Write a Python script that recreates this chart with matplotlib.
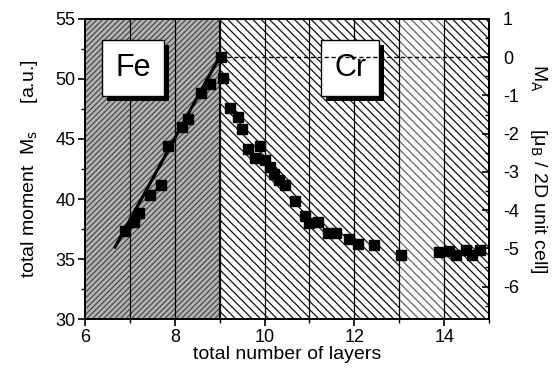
import matplotlib
matplotlib.use("Agg")
import matplotlib.pyplot as plt
import matplotlib.patheffects as pe
from matplotlib.ticker import MultipleLocator

plt.rcParams['font.family'] = ['Liberation Sans', 'DejaVu Sans']
plt.rcParams['hatch.linewidth'] = 0.9
plt.rcParams['axes.unicode_minus'] = False

# === Data ===
fe_x = [6.89, 7.10, 7.20, 7.44, 7.70, 7.85, 8.15, 8.30, 8.59, 8.79, 9.04]
fe_y = [37.3, 38.1, 38.8, 40.35, 41.2, 44.4, 46.0, 46.7, 48.8, 49.55, 51.85]

cr_x = [9.07, 9.24, 9.41, 9.50, 9.63, 9.78, 9.89, 10.00, 10.11, 10.22, 10.33,
        10.45, 10.68, 10.90, 10.98, 11.20, 11.41, 11.59, 11.88, 12.08, 12.44,
        13.03, 13.89, 14.11, 14.27, 14.48, 14.63, 14.79]
cr_y = [50.1, 47.6, 46.8, 45.8, 44.2, 43.4, 44.4, 43.25, 42.7, 42.1, 41.6,
        41.15, 39.8, 38.55, 38.0, 38.05, 37.15, 37.15, 36.7, 36.25, 36.2,
        35.35, 35.6, 35.7, 35.3, 35.75, 35.3, 35.75]

# straight line through the Fe points
fit_x = [6.67, 9.02]
fit_y = [36.0, 52.0]

grid_x = [7, 8, 10, 11, 12, 13, 14]

# === Figure ===
fig = plt.figure(figsize=(5.57, 3.71), dpi=100)
ax = fig.add_axes([0.1526, 0.140, 0.7254, 0.809])

ax.set_xlim(6, 15)
ax.set_ylim(30, 55)

# background regions
ax.axvspan(6, 9, facecolor='#b4b4b4', edgecolor='#4a4a4a', hatch='//////',
           linewidth=0, zorder=0)
ax.axvspan(9, 15, facecolor='white', edgecolor='#111111', hatch='\\\\\\\\',
           linewidth=0, zorder=0)
ax.axvspan(13.0, 14.0, facecolor='white', alpha=0.35, linewidth=0, zorder=0.5)

for gx in grid_x:
    ax.axvline(gx, color='black', linewidth=0.9, zorder=1)
ax.axvline(9, color='black', linewidth=1.6, zorder=1)

# fit line and data
ax.plot(fit_x, fit_y, color='black', linewidth=2.3, zorder=3)
ax.plot(fe_x, fe_y, 's', color='black', markersize=7, zorder=4)
ax.plot(cr_x, cr_y, 's', color='black', markersize=7, zorder=4)

# label boxes with a drop shadow
for txt, tx in [("Fe", 7.07), ("Cr", 11.91)]:
    t = ax.text(tx, 50.9, txt, ha='center', va='center', fontsize=22,
                color='black', zorder=6,
                bbox=dict(boxstyle='square,pad=0.42', facecolor='white',
                          edgecolor='black', linewidth=1))
    t.get_bbox_patch().set_path_effects([
        pe.SimplePatchShadow(offset=(3.6, -3.6), shadow_rgbFace='black', alpha=1.0),
        pe.Normal()])

# axes styling
for s in ax.spines.values():
    s.set_linewidth(1.4)
ax.xaxis.set_major_locator(MultipleLocator(2))
ax.xaxis.set_minor_locator(MultipleLocator(1))
ax.yaxis.set_major_locator(MultipleLocator(5))
ax.yaxis.set_minor_locator(MultipleLocator(2.5))
ax.tick_params(which='major', direction='out', length=5, width=1.2,
               labelsize=13, pad=2)
ax.tick_params(which='minor', direction='out', length=3, width=1.0)
ax.tick_params(top=False, right=False, which='both')

ax.set_xlabel("total number of layers", fontsize=14, labelpad=0)
ax.set_ylabel("total moment  M$_\\mathrm{s}$     [a.u.]", fontsize=14, labelpad=11)

# right axis
ax2 = ax.twinx()
ax2.set_ylim(-6.85, 1.0)
ax2.hlines(0, 9, 15, colors='black', linestyles=(0, (3, 2)), linewidth=1.0,
           zorder=2)
ax2.yaxis.set_major_locator(MultipleLocator(1))
ax2.yaxis.set_minor_locator(MultipleLocator(0.5))
ax2.tick_params(which='major', direction='in', length=5, width=1.2,
                labelsize=13, pad=10)
ax2.tick_params(which='minor', direction='in', length=3, width=1.0)
for s in ax2.spines.values():
    s.set_linewidth(1.4)
ax2.set_ylabel("M$_\\mathrm{A}$       [\u03bc$_\\mathrm{B}$ / 2D unit cell]",
               fontsize=14, rotation=270, labelpad=22)

fig.savefig("out.png", dpi=100)
